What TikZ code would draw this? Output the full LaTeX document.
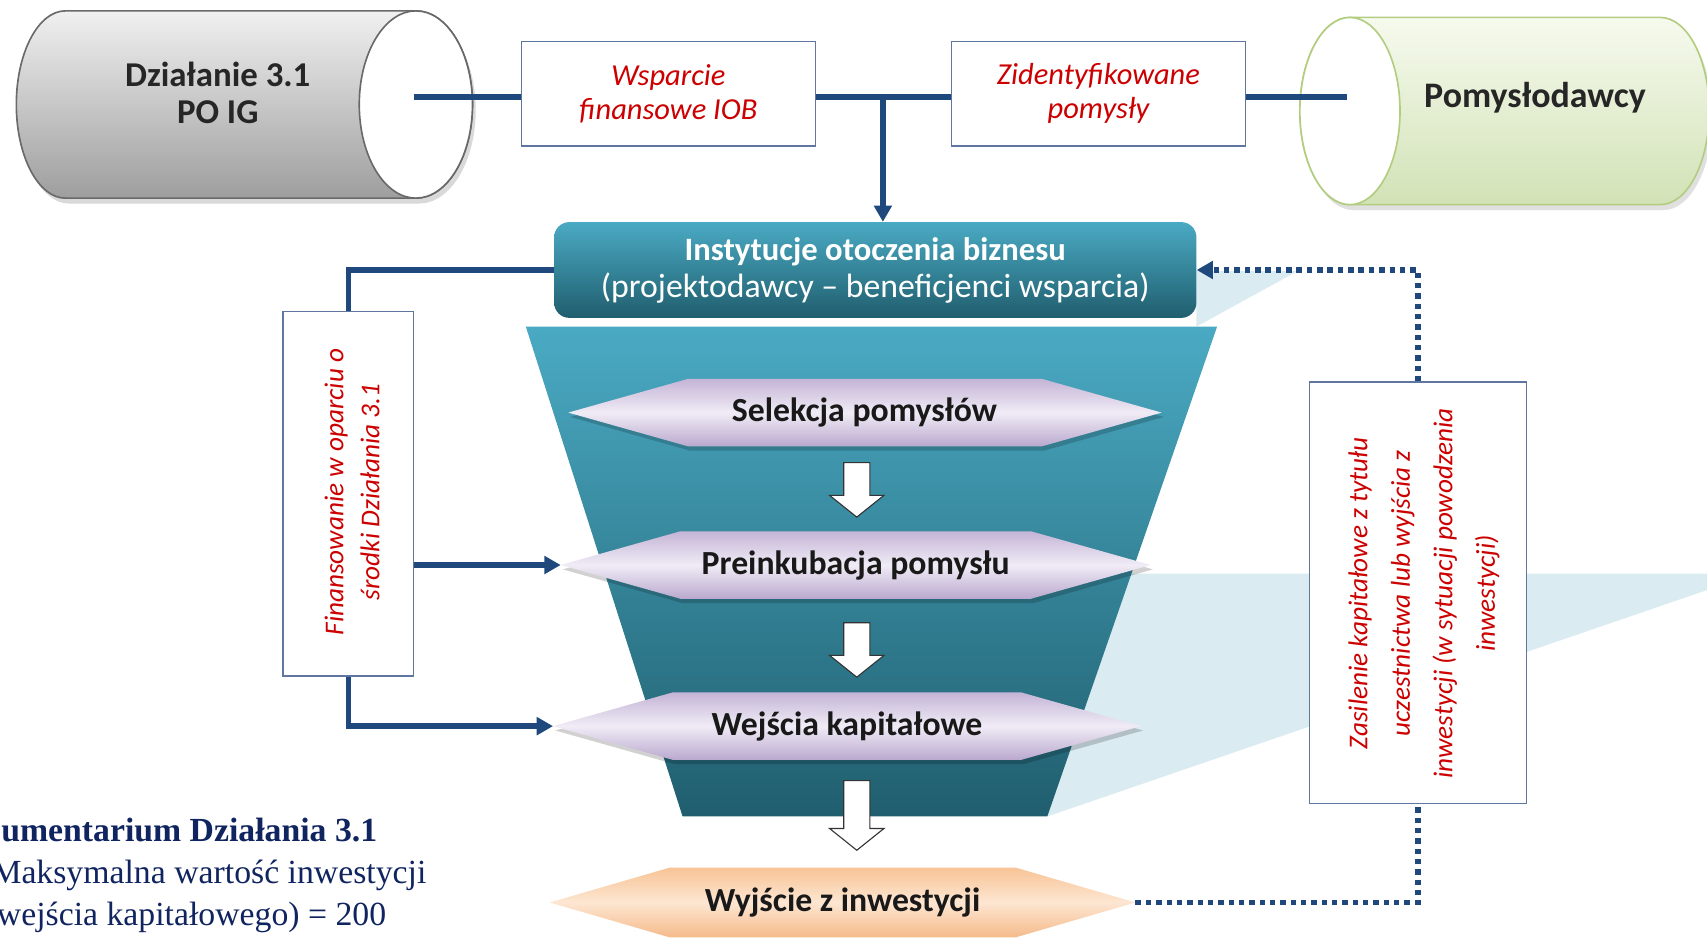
\documentclass[tikz,border=0pt]{standalone}
\usepackage{fontspec}
\setmainfont{Carlito}
\newfontfamily\timesfont{Liberation Serif}
\usetikzlibrary{arrows.meta,calc}
\definecolor{lineblue}{RGB}{31,73,125}
\definecolor{txtred}{RGB}{204,0,0}
\definecolor{boxborder}{RGB}{95,118,160}
\definecolor{navy}{RGB}{16,36,96}
\definecolor{lightcone}{RGB}{218,235,242}
\definecolor{tealtop}{RGB}{74,170,195}
\definecolor{tealbot}{RGB}{32,94,110}
\definecolor{lavtop}{RGB}{196,180,214}
\definecolor{lavmid}{RGB}{240,236,246}
\definecolor{lavbot}{RGB}{186,168,206}
\definecolor{orgtop}{RGB}{248,196,150}
\definecolor{orgmid}{RGB}{253,230,210}
\definecolor{orgbot}{RGB}{245,186,138}
\definecolor{graytop}{RGB}{240,240,240}
\definecolor{graybot}{RGB}{158,158,158}
\definecolor{grayedge}{RGB}{105,105,105}
\definecolor{greentop}{RGB}{246,250,238}
\definecolor{greenbot}{RGB}{210,226,182}
\definecolor{greenedge}{RGB}{178,205,128}
\begin{document}
\begin{tikzpicture}[x=1pt,y=-1pt,
  blueline/.style={draw=lineblue,line width=5pt},
  bluearrow/.style={blueline,-{Triangle[length=15pt,width=16pt]}},
  dotline/.style={draw=lineblue,line width=5pt,dash pattern=on 5pt off 4.5pt},
  labelbox/.style={draw=boxborder,line width=1.3pt,fill=white,inner sep=0pt},
  redtext/.style={text=txtred,align=center,inner sep=0pt},
  hextext/.style={font=\bfseries\fontsize{31}{34}\selectfont,text=black!90},
  blockarrow/.style={draw=black!80,line width=1pt,fill=white},
  hexshadow/.style={fill=black,opacity=0.18,xshift=2pt,yshift=-4pt},
  notetext/.style={anchor=base west,inner sep=0pt,text=navy}
]
\useasboundingbox (0,0) rectangle (1568,861);

% light background cones
\fill[lightcone] (1039,527) -- (1568,527) -- (1568,542) -- (962,750) -- cycle;
\fill[lightcone] (1099,249) -- (1192,249) -- (1099,300) -- cycle;

% funnel
\shade[top color=tealtop,bottom color=tealbot] (483,300) -- (1118,300) -- (962,750) -- (627,750) -- cycle;

% left cylinder
\fill[black,opacity=0.15,xshift=3pt,yshift=-5pt] (382,10) -- (60,10) arc[start angle=-90,end angle=-270,x radius=45,y radius=86] -- (382,182) arc[start angle=90,end angle=-90,x radius=52,y radius=86] -- cycle;
\shadedraw[top color=graytop,bottom color=graybot,draw=grayedge,line width=1.5pt] (382,10) -- (60,10) arc[start angle=-90,end angle=-270,x radius=45,y radius=86] -- (382,182) arc[start angle=90,end angle=-90,x radius=52,y radius=86] -- cycle;
\filldraw[fill=white,draw=grayedge,line width=1.5pt] (382,96) ellipse[x radius=52,y radius=86];
\node[font=\bfseries\fontsize{32}{34}\selectfont,align=center,text=black!85] (lcyl) at (200,85) {Działanie 3.1\\PO IG};

% right cylinder
\fill[black,opacity=0.12,xshift=3pt,yshift=-5pt] (1240,16) -- (1525,16) arc[start angle=-90,end angle=90,x radius=45,y radius=86] -- (1240,188) arc[start angle=90,end angle=270,x radius=46,y radius=86] -- cycle;
\shadedraw[top color=greentop,bottom color=greenbot,draw=greenedge,line width=1.5pt] (1240,16) -- (1525,16) arc[start angle=-90,end angle=90,x radius=45,y radius=86] -- (1240,188) arc[start angle=90,end angle=270,x radius=46,y radius=86] -- cycle;
\filldraw[fill=white,draw=greenedge,line width=1.5pt] (1240,102) ellipse[x radius=46,y radius=86];
\node[font=\bfseries\fontsize{33}{36}\selectfont,text=black!85] (rcyl) at (1410,90) {Pomysłodawcy};

% top line
\coordinate (lend) at (380,89);
\coordinate (rend) at (1237,89);
\coordinate (jn) at (811,89);
\draw[blueline] (lend) -- (rend);

% top boxes
\node[labelbox,minimum width=270,minimum height=96,redtext,font=\itshape\fontsize{28}{31}\selectfont] (wsp) at (614,86) {Wsparcie\\finansowe IOB};
\node[labelbox,minimum width=270,minimum height=96,redtext,font=\itshape\fontsize{28}{31}\selectfont] (zid) at (1009,86) {Zidentyfikowane\\pomysły};

% IOB
\node[rounded corners=14pt,top color=tealtop,bottom color=tealbot,minimum width=590,minimum height=88,text=white,align=center,inner sep=0pt,font=\fontsize{31}{34}\selectfont] (iob) at (804,248) {{\bfseries\fontsize{30}{34}\selectfont Instytucje otoczenia biznesu}\\(projektodawcy – beneficjenci wsparcia)};
\draw[bluearrow] (jn) -- (jn |- iob.north);

% hexagons
\fill[hexshadow] (522,379) -- (632,348) -- (957,348) -- (1067,379) -- (957,410) -- (632,410) -- cycle;
\shade[top color=lavtop,bottom color=lavbot,middle color=lavmid] (522,379) -- (632,348) -- (957,348) -- (1067,379) -- (957,410) -- (632,410) -- cycle;
\node[hextext] (sel) at (794,379) {Selekcja pomysłów};

\fill[hexshadow] (515,519) -- (625,488) -- (947,488) -- (1057,519) -- (947,550) -- (625,550) -- cycle;
\shade[top color=lavtop,bottom color=lavbot,middle color=lavmid] (515,519) -- (625,488) -- (947,488) -- (1057,519) -- (947,550) -- (625,550) -- cycle;
\node[hextext] (pre) at (786,519) {Preinkubacja pomysłu};
\coordinate (preW) at (515,519);

\fill[hexshadow] (508,667) -- (618,636) -- (938,636) -- (1048,667) -- (938,698) -- (618,698) -- cycle;
\shade[top color=lavtop,bottom color=lavbot,middle color=lavmid] (508,667) -- (618,636) -- (938,636) -- (1048,667) -- (938,698) -- (618,698) -- cycle;
\node[hextext] (wej) at (778,667) {Wejścia kapitałowe};
\coordinate (wejW) at (508,667);

\shade[top color=orgtop,bottom color=orgbot,middle color=orgmid] (505,829) -- (615,797) -- (933,797) -- (1043,829) -- (933,861) -- (615,861) -- cycle;
\node[hextext] (wyj) at (774,829) {Wyjście z inwestycji};
\coordinate (wyjE) at (1043,829);

% block arrows
\filldraw[blockarrow] (775,425) -- (799,425) -- (799,455) -- (812,455) -- (787,475) -- (762,455) -- (775,455) -- cycle;
\filldraw[blockarrow] (775,572) -- (799,572) -- (799,602) -- (812,602) -- (787,622) -- (762,602) -- (775,602) -- cycle;
\filldraw[blockarrow] (775,717) -- (799,717) -- (799,761) -- (812,761) -- (787,781) -- (762,761) -- (775,761) -- cycle;

% left box
\node[labelbox,minimum width=120,minimum height=335] (finbox) at (320,453.5) {};
\node[redtext,rotate=90,font=\itshape\fontsize{25}{33}\selectfont] (fintext) at (323.5,452) {Finansowanie w oparciu o\\środki Działania 3.1};

% right box
\node[labelbox,minimum width=199,minimum height=387] (zasbox) at (1302.5,544.5) {};
\node[redtext,rotate=90,font=\itshape\fontsize{25}{39}\selectfont] (zastext) at (1308,545) {Zasilenie kapitałowe z tytułu\\uczestnictwa lub wyjścia z\\inwestycji (w sytuacji powodzenia\\inwestycji)};

% connectors
\draw[blueline] (iob.west) -| (finbox.north);
\draw[bluearrow] (finbox.east |- preW) -- (preW);
\draw[bluearrow] (finbox.south) |- (wejW);
\draw[dotline] (wyjE) -| (zasbox.south);
\draw[dotline,-{Triangle[length=15pt,width=16pt]}] (zasbox.north) |- (iob.east);

% note text
\node[notetext,font=\timesfont\bfseries\fontsize{31}{38}\selectfont] (note1) at (1,773) {umentarium Działania 3.1};
\node[notetext,font=\timesfont\fontsize{31}{38}\selectfont] (note2) at (-8,812) {Maksymalna wartość inwestycji};
\node[notetext,font=\timesfont\fontsize{31}{38}\selectfont] (note3) at (-3,850) {wejścia kapitałowego) = 200};
\end{tikzpicture}
\end{document}
